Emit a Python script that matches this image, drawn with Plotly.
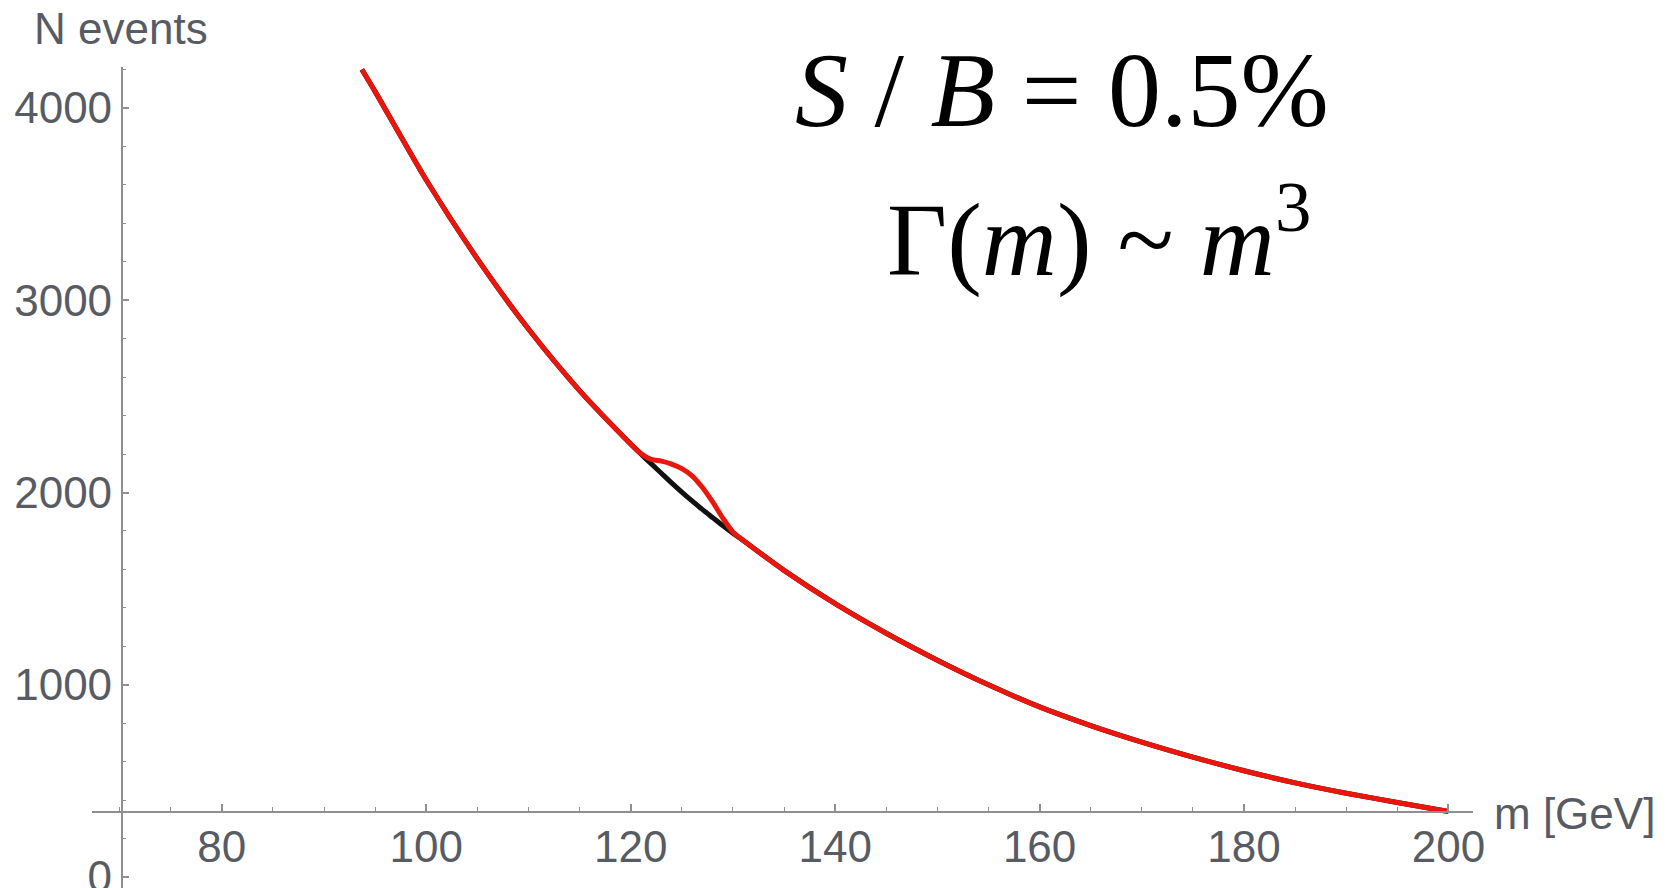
import plotly.graph_objects as go

# ---- data ----
m_vals = [93.7, 95, 100, 105, 110, 115, 120, 121, 122, 123, 124, 125, 126, 127,
          128, 129, 130, 131, 135, 140, 145, 150, 155, 160, 165, 170, 175, 180,
          185, 190, 195, 200]
background = [4200, 4085, 3625, 3215, 2850, 2530, 2252, 2200, 2150, 2100, 2050,
              2002, 1956, 1912, 1870, 1828, 1788, 1750, 1595, 1422, 1268, 1128,
              1000, 885, 788, 702, 624, 553, 490, 436, 388, 341]
with_signal = [4200, 4085, 3625, 3215, 2850, 2530, 2252, 2203, 2172, 2163, 2148,
               2124, 2087, 2027, 1952, 1868, 1795, 1752, 1595, 1422, 1268, 1128,
               1000, 885, 788, 702, 624, 553, 490, 436, 388, 341]

x_tick_step = 20
y_tick_step = 1000
x_minor_step = 5
y_minor_step = 200

# ---- layout geometry ----
W, H = 1667, 888
L, R, T, B = 92, 194, 67, 0
x_range = [67.3, 202.4]
y_range = [-57, 4213]
x_axis_at_y = 337      # where the m axis crosses the N axis
y_axis_at_x = 70.2     # where the N axis crosses the m axis

axis_color = "#8f8f8f"
label_color = "#575b63"
sans = "Liberation Sans, Arial, sans-serif"
serif = "Liberation Serif, Times New Roman, serif"

fig = go.Figure()
fig.add_trace(go.Scatter(
    x=m_vals, y=background, mode="lines",
    line=dict(color="#111111", width=5, shape="spline", smoothing=0.7),
    hoverinfo="skip"))
fig.add_trace(go.Scatter(
    x=m_vals, y=with_signal, mode="lines",
    line=dict(color="rgb(232,22,12)", width=5, shape="spline", smoothing=0.7)))

xpos = (x_axis_at_y - y_range[0]) / (y_range[1] - y_range[0])
ypos = (y_axis_at_x - x_range[0]) / (x_range[1] - x_range[0])

fig.update_layout(
    width=W, height=H,
    margin=dict(l=L, r=R, t=T, b=B, autoexpand=False),
    paper_bgcolor="white", plot_bgcolor="white",
    showlegend=False,
    xaxis=dict(
        range=x_range, anchor="free", position=xpos,
        showline=True, linecolor=axis_color, linewidth=1.5,
        showgrid=False, zeroline=False,
        tickmode="linear", tick0=0, dtick=x_tick_step,
        ticks="inside", ticklen=7, tickwidth=1.5, tickcolor=axis_color,
        tickfont=dict(family=sans, size=44, color=label_color),
        ticklabelstandoff=-4, ticklabeloverflow="allow",
        minor=dict(tickmode="linear", tick0=0, dtick=x_minor_step,
                   ticks="inside", ticklen=4, tickwidth=1.2, tickcolor=axis_color),
    ),
    yaxis=dict(
        range=y_range, anchor="free", position=ypos,
        showline=True, linecolor=axis_color, linewidth=1.5,
        showgrid=False, zeroline=False,
        tickmode="linear", tick0=0, dtick=y_tick_step,
        ticks="inside", ticklen=7, tickwidth=1.5, tickcolor=axis_color,
        tickfont=dict(family=sans, size=44, color=label_color),
        ticklabelstandoff=0, ticklabeloverflow="allow",
        minor=dict(tickmode="linear", tick0=0, dtick=y_minor_step,
                   ticks="inside", ticklen=4, tickwidth=1.2, tickcolor=axis_color),
    ),
)

def px_x(px):
    return (px - L) / (W - L - R)

def px_y(py):
    return (H - B - py) / (H - T - B)

fig.add_annotation(text="N events", xref="paper", yref="paper",
                   x=px_x(32), y=px_y(29), xanchor="left", yanchor="middle",
                   showarrow=False, font=dict(family=sans, size=44, color=label_color))
fig.add_annotation(text="m [GeV]", xref="paper", yref="paper",
                   x=px_x(1492), y=px_y(813), xanchor="left", yanchor="middle",
                   showarrow=False, font=dict(family=sans, size=44, color=label_color))
fig.add_annotation(text="<i>S</i> / <i>B</i> = 0.5%", xref="paper", yref="paper",
                   x=px_x(1062), y=px_y(90), xanchor="center", yanchor="middle",
                   showarrow=False, font=dict(family=serif, size=106, color="black"))
fig.add_annotation(text="Γ(<i>m</i>) ~ <i>m</i><sup>3</sup>", xref="paper", yref="paper",
                   x=px_x(1099), y=px_y(232), xanchor="center", yanchor="middle",
                   showarrow=False, font=dict(family=serif, size=104, color="black"))

fig.write_html("out.html")
